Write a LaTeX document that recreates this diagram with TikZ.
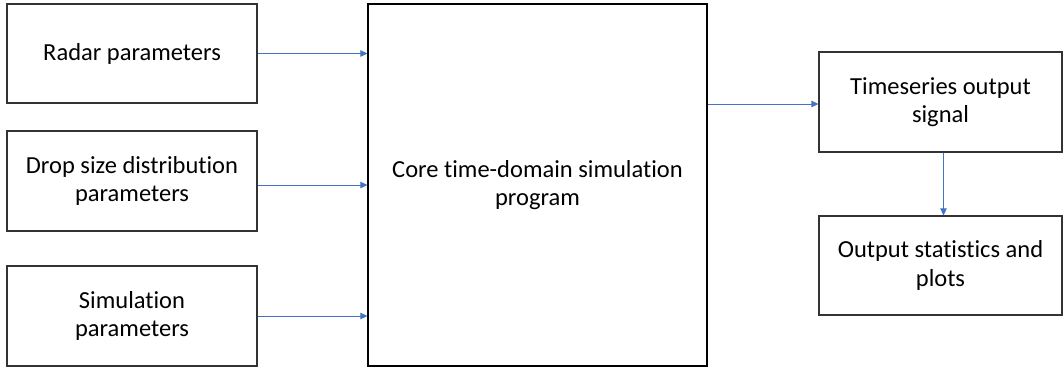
\documentclass[tikz,border=0pt]{standalone}
\usepackage{fontspec}
\setmainfont[Ligatures=NoCommon]{Carlito}
\usepackage{xcolor}
\usetikzlibrary{arrows.meta}
\definecolor{pfeilblau}{HTML}{4472C4}
\begin{document}
\begin{tikzpicture}[x=1pt, y=1pt,
	box/.style={draw=black!80, line width=1.2pt, align=center, inner sep=0pt,
		font=\fontsize{24.5}{28.5}\selectfont},
	pfeil/.style={-{Triangle[length=7pt, width=6.5pt]}, draw=pfeilblau, fill=pfeilblau, line width=0.8pt}]
	   	\useasboundingbox (0,0) rectangle (1063,-368);
	   	%
	   	%Radar
	   	\node (radar) at (132,-53.5) [box, minimum width=250pt, minimum height=99pt] {Radar parameters};
	   	%
	   	%Drop size
	   	\node (drop) at (132,-181) [box, minimum width=250pt, minimum height=100pt] {Drop size distribution\\parameters};
	   	%
	   	%Simulation
	   	\node (sim) at (132,-316) [box, minimum width=250pt, minimum height=100pt] {Simulation\\parameters};
	   	%
	   	%Core
	   	\node (core) at (537.5,-185) [box, draw=black, minimum width=339pt, minimum height=362pt] {Core time-domain simulation\\program};
	   	%
	   	%Timeseries
	   	\node (ts) at (940.5,-102) [box, minimum width=243pt, minimum height=100pt] {Timeseries output\\signal};
	   	%
	   	%Output
	   	\node (out) at (940.5,-265.5) [box, minimum width=243pt, minimum height=99pt] {Output statistics and\\plots};
	   	%
	   	%Pfeile Eingang - Core
	   	\draw[pfeil] (radar.east) -- (radar.east -| core.west);
	   	\draw[pfeil] ([yshift=-4pt]drop.east) -- ([yshift=-4pt]drop.east -| core.west);
	   	\draw[pfeil] (sim.east) -- (sim.east -| core.west);
	   	%
	   	%Pfeil Core - Timeseries
	   	\draw[pfeil] ([yshift=-2pt]ts.west -| core.east) -- ([yshift=-2pt]ts.west);
	   	%
	   	%Pfeil Timeseries - Output
	   	\draw[pfeil] ([xshift=3pt]ts.south) -- ([xshift=3pt]out.north);
\end{tikzpicture}
\end{document}
